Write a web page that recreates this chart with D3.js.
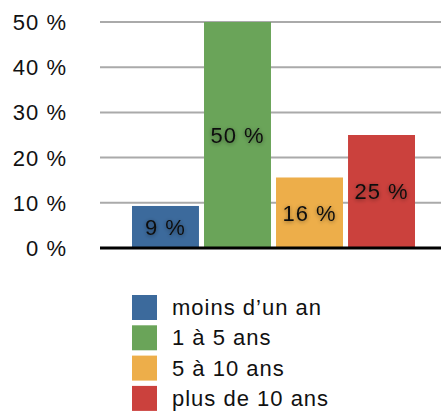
<!DOCTYPE html>
<html>
<head>
<meta charset="utf-8">
<script src="https://cdn.jsdelivr.net/npm/d3@7"></script>
<style>
  body { margin: 0; background: #fff; }
  text { font-family: "Liberation Sans", Arial, Helvetica, sans-serif; fill: #111; letter-spacing: 1px; }
</style>
</head>
<body>
<div id="chart"></div>
<script>
const categories = ["moins d’un an", "1 à 5 ans", "5 à 10 ans", "plus de 10 ans"];
const values = [9.3, 50, 15.6, 25];
const labels = ["9 %", "50 %", "16 %", "25 %"];
const colors = ["#3c6a9c", "#6aa459", "#edae4a", "#cb413d"];
const yTicks = [0, 10, 20, 30, 40, 50];

const width = 441, height = 412;
const svg = d3.select("#chart").append("svg")
  .attr("width", width).attr("height", height);

// soft shadow behind the value labels
const defs = svg.append("defs");
const f = defs.append("filter").attr("id", "shadow")
  .attr("x", "-20%").attr("y", "-40%").attr("width", "140%").attr("height", "180%");
f.append("feGaussianBlur").attr("in", "SourceAlpha").attr("stdDeviation", 2).attr("result", "b");
f.append("feOffset").attr("in", "b").attr("dy", 1).attr("result", "o");
f.append("feComponentTransfer").attr("in", "o").attr("result", "s")
  .append("feFuncA").attr("type", "linear").attr("slope", 0.45);
const m = f.append("feMerge");
m.append("feMergeNode").attr("in", "s");
m.append("feMergeNode").attr("in", "SourceGraphic");

const x = d3.scaleBand().domain(categories).range([132, 415]).paddingInner(0.07);
const y = d3.scaleLinear().domain([0, 50]).range([248, 22]);

// grid lines
svg.append("g").selectAll("line").data(yTicks.filter(d => d > 0)).join("line")
  .attr("x1", 100).attr("x2", width)
  .attr("y1", d => y(d)).attr("y2", d => y(d))
  .attr("stroke", "#aaa").attr("stroke-width", 2);

// y axis labels
svg.append("g").selectAll("text").data(yTicks).join("text")
  .attr("x", 67).attr("y", d => y(d))
  .attr("dy", "0.36em")
  .attr("text-anchor", "end")
  .attr("font-size", 22)
  .text(d => d + " %");

// bars
svg.append("g").selectAll("rect").data(values).join("rect")
  .attr("x", (d, i) => x(categories[i]))
  .attr("y", d => y(d))
  .attr("width", x.bandwidth())
  .attr("height", d => y(0) - y(d))
  .attr("fill", (d, i) => colors[i]);

// baseline
svg.append("line")
  .attr("x1", 100).attr("x2", width)
  .attr("y1", y(0)).attr("y2", y(0))
  .attr("stroke", "#000").attr("stroke-width", 3);

// value labels
svg.append("g").selectAll("text").data(values).join("text")
  .attr("x", (d, i) => x(categories[i]) + x.bandwidth() / 2)
  .attr("y", d => (y(d) + y(0)) / 2)
  .attr("dy", "0.36em")
  .attr("text-anchor", "middle")
  .attr("font-size", 22)
  .attr("filter", "url(#shadow)")
  .text((d, i) => labels[i]);

// legend
const legend = svg.append("g").selectAll("g").data(categories).join("g")
  .attr("transform", (d, i) => `translate(132,${295 + i * 30.3})`);
legend.append("rect").attr("width", 25).attr("height", 25)
  .attr("fill", (d, i) => colors[i]);
legend.append("text").attr("x", 40).attr("y", 12.5).attr("dy", "0.34em")
  .attr("font-size", 22)
  .text(d => d);
</script>
</body>
</html>
